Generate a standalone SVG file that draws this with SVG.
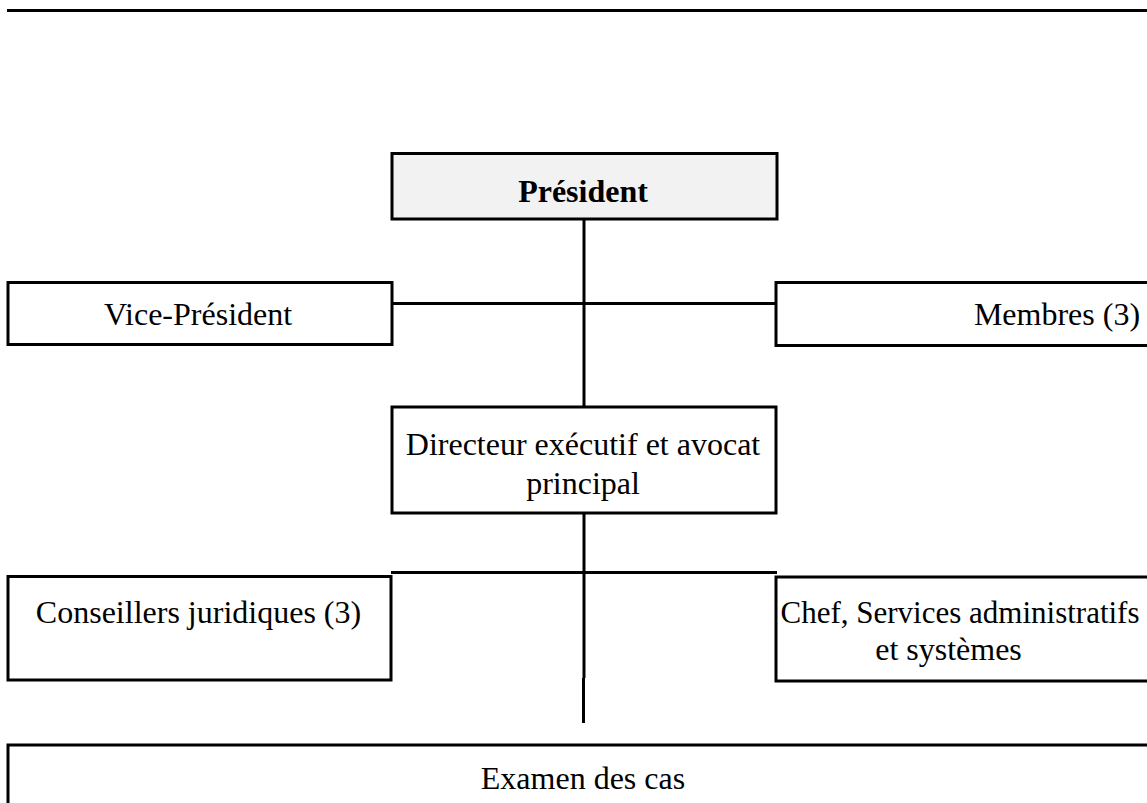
<svg xmlns="http://www.w3.org/2000/svg" width="1147" height="803" viewBox="0 0 1147 803">
<style>
.box{fill:#ffffff;stroke:#000000;stroke-width:3}
.pres{fill:#f2f2f2;stroke:#000000;stroke-width:3}
.ln{stroke:#000000;stroke-width:3;fill:none}
text{font-family:"Liberation Serif","Times New Roman",serif;font-size:32px;fill:#000000;text-anchor:middle}
.b{font-weight:bold}
.s{font-size:31px}
</style>
<rect x="0" y="0" width="1147" height="803" fill="#ffffff"/>
<line class="ln" x1="7" y1="10.5" x2="1147" y2="10.5"/>
<g id="connectors">
<line class="ln" x1="584" y1="219" x2="584" y2="407"/>
<line class="ln" x1="392" y1="303.5" x2="777" y2="303.5"/>
<line class="ln" x1="584" y1="513" x2="584" y2="678"/>
<line class="ln" x1="583.5" y1="678" x2="583.5" y2="723"/>
<line class="ln" x1="391" y1="572.5" x2="777" y2="572.5"/>
</g>
<g id="president">
<rect class="pres" x="392" y="153.5" width="385" height="65.5"/>
<text class="b" x="583" y="202">Président</text>
</g>
<g id="vice-president">
<rect class="box" x="8" y="282.5" width="384" height="62"/>
<text x="198" y="325">Vice-Président</text>
</g>
<g id="membres">
<rect class="box" x="776" y="282.5" width="600" height="63"/>
<text x="1057" y="325">Membres (3)</text>
</g>
<g id="directeur">
<rect class="box" x="392" y="407" width="384" height="106"/>
<text x="583" y="455">Directeur exécutif et avocat</text>
<text x="583" y="494">principal</text>
</g>
<g id="conseillers">
<rect class="box" x="8" y="576.5" width="383" height="103.5"/>
<text x="198.5" y="623">Conseillers juridiques (3)</text>
</g>
<g id="chef">
<rect class="box" x="776" y="577" width="600" height="104"/>
<text class="s" x="960" y="623">Chef, Services administratifs</text>
<text x="948.5" y="660">et systèmes</text>
</g>
<g id="examen">
<rect class="box" x="8" y="745" width="1200" height="100"/>
<text x="583" y="789">Examen des cas</text>
</g>
</svg>
